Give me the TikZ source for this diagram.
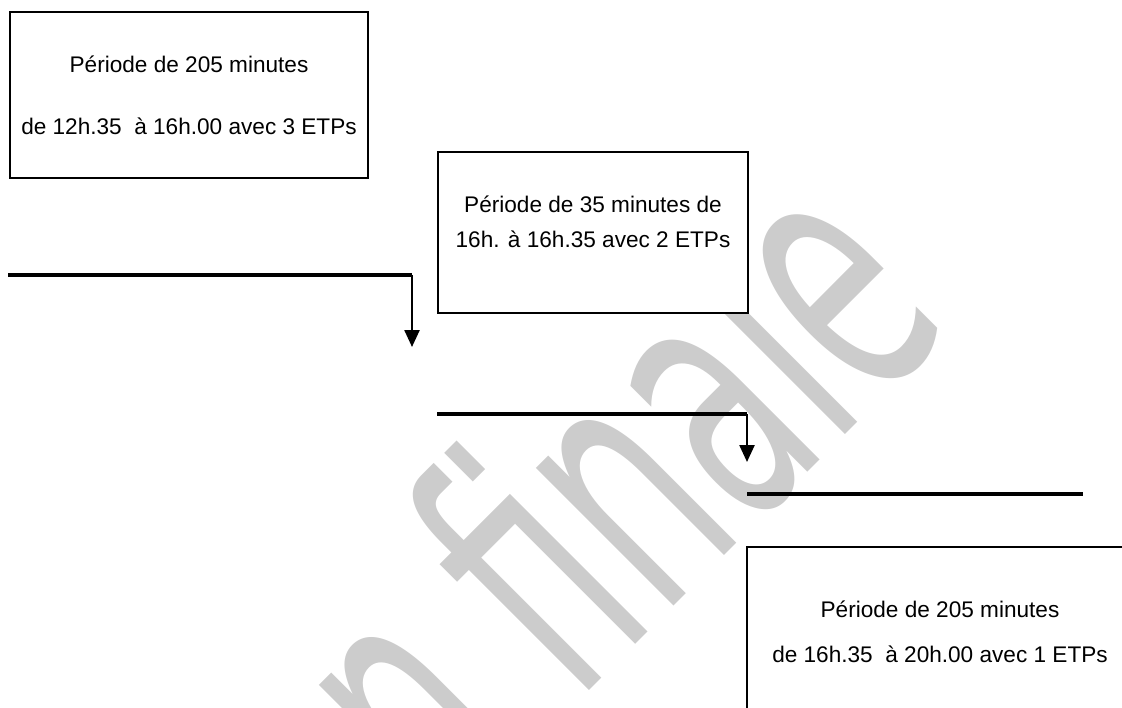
\documentclass[tikz,border=0pt]{standalone}
\usepackage{fontspec}
\setmainfont{Liberation Sans}
\newfontfamily\markfont{DejaVu Sans}
\usepackage{tikz}
\usetikzlibrary{arrows.meta, positioning}
\definecolor{markgray}{gray}{0.80}

\begin{document}
\begin{tikzpicture}[
    x=0.5pt, y=-0.5pt,
    period/.style={rectangle, draw, fill=white, line width=1pt, align=center, inner sep=0pt, font=\fontsize{11.3}{13.6}\selectfont},
    level/.style={line width=2pt},
    arrow/.style={-{Triangle[length=8.5pt, width=7.5pt]}, line width=1.2pt},
    watermark/.style={text=markgray, inner sep=0pt, rotate=45, anchor=base west, font=\markfont\fontsize{178}{178}\selectfont},
]
\useasboundingbox (0,0) rectangle (1122,707);
\clip (0,0) rectangle (1122,707);

% Watermark
\node[watermark] (mark) at (444,836) {\scalebox{0.545}[1]{n finale}};

% Nodes
\node[period, minimum width=179pt, minimum height=83pt] (p1) at (189,95)
    {P\'eriode de 205 minutes\\[17.4pt] de 12h.35~ \`a 16h.00 avec 3 ETPs};
\node[period, minimum width=155pt, minimum height=80.5pt, text depth=10.5pt] (p2) at (593,232.5)
    {P\'eriode de 35 minutes de\\[3.9pt] 16h. \`a 16h.35 avec 2 ETPs};
\node[period, minimum width=193pt, minimum height=85pt] (p3) at (940,632)
    {P\'eriode de 205 minutes\\[8.9pt] de 16h.35~ \`a 20h.00 avec 1 ETPs};

% Levels
\coordinate (lvl1) at (8,275);
\coordinate (drop1) at (412,275);
\coordinate (tip1) at (412,347);
\coordinate (lvl2) at (437,414);
\coordinate (drop2) at (747,414);
\coordinate (tip2) at (747,462);
\coordinate (lvl3) at (747,494);
\coordinate (end3) at (1083,494);

% Arrows
\draw[level] (lvl1) -- (drop1);
\draw[arrow] (drop1) -- (tip1);
\draw[level] (lvl2) -- (drop2);
\draw[arrow] (drop2) -- (tip2);
\draw[level] (lvl3) -- (end3);

\end{tikzpicture}
\end{document}
